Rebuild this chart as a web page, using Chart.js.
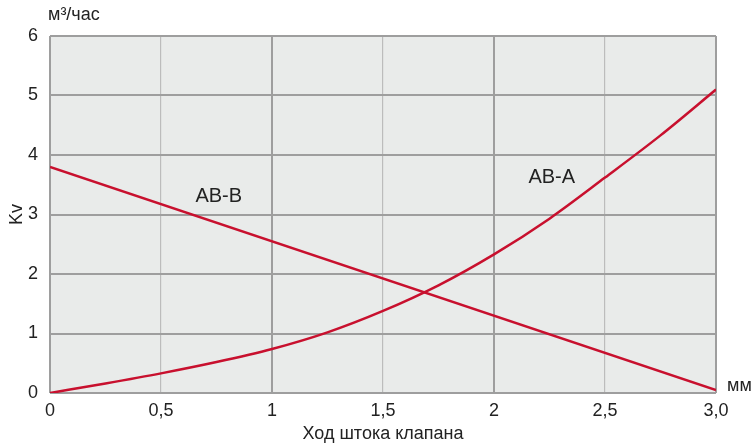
<!DOCTYPE html>
<html>
<head>
<meta charset="utf-8">
<script src="https://cdn.jsdelivr.net/npm/chart.js@4"></script>
<style>
  html, body { margin: 0; padding: 0; background: #fff; }
  #wrap { width: 751px; height: 445px; }
</style>
</head>
<body>
<div id="wrap"><canvas id="chart" width="751" height="445"></canvas></div>
<script>
// ход штока, мм
const strokeAB_A = [0, 0.25, 0.5, 0.75, 1, 1.25, 1.5, 1.75, 2, 2.25, 2.5, 2.75, 3];
const kvAB_A = [0, 0.16, 0.33, 0.52, 0.74, 1.02, 1.38, 1.81, 2.33, 2.93, 3.62, 4.33, 5.1];
const strokeAB_B = [0, 3];
const kvAB_B = [3.8, 0.05];
const xTicks = [0, 0.5, 1, 1.5, 2, 2.5, 3];
const yTicks = [0, 1, 2, 3, 4, 5, 6];
const seriesNames = ['AB-A', 'AB-B'];
const labelPos = [[2.26, 3.63], [0.76, 3.3]];

const FONT = '"Liberation Sans", Arial, sans-serif';
const RED = '#c8102e';

const bgPlugin = {
  id: 'bg',
  beforeDraw(chart) {
    const a = chart.chartArea, ctx = chart.ctx;
    ctx.save();
    ctx.fillStyle = '#e9ebea';
    ctx.fillRect(a.left, a.top, a.right - a.left, a.bottom - a.top);
    ctx.restore();
  }
};

const textPlugin = {
  id: 'texts',
  afterDatasetsDraw(chart) {
    const ctx = chart.ctx, xs = chart.scales.x, ys = chart.scales.y;
    ctx.save();
    ctx.fillStyle = '#222';
    ctx.font = '20px ' + FONT;
    ctx.textAlign = 'center';
    ctx.textBaseline = 'middle';
    seriesNames.forEach(function (name, i) {
      ctx.fillText(name, xs.getPixelForValue(labelPos[i][0]), ys.getPixelForValue(labelPos[i][1]));
    });
    ctx.font = '18px ' + FONT;
    ctx.textAlign = 'left';
    ctx.fillText('м³/час', xs.left - 2, 15);
    ctx.fillText('мм', xs.right + 11, ys.bottom - 7);
    ctx.restore();
  }
};

new Chart(document.getElementById('chart'), {
  type: 'line',
  data: {
    datasets: [
      { label: seriesNames[0], data: strokeAB_A.map(function (x, i) { return { x: x, y: kvAB_A[i] }; }),
        borderColor: RED, borderWidth: 2.5, pointRadius: 0, cubicInterpolationMode: 'monotone', fill: false },
      { label: seriesNames[1], data: strokeAB_B.map(function (x, i) { return { x: x, y: kvAB_B[i] }; }),
        borderColor: RED, borderWidth: 2.5, pointRadius: 0, fill: false }
    ]
  },
  options: {
    responsive: false,
    animation: false,
    layout: { padding: { top: 36, right: 35, left: 6, bottom: 0 } },
    plugins: { legend: { display: false }, tooltip: { enabled: false } },
    scales: {
      x: {
        type: 'linear', min: 0, max: 3,
        afterBuildTicks: function (s) { s.ticks = xTicks.map(function (v) { return { value: v }; }); },
        afterFit: function (s) { s.height = 52; },
        grid: {
          color: function (c) { return Number.isInteger(c.tick.value) ? '#9e9e9e' : '#bcbcbc'; },
          lineWidth: function (c) { return Number.isInteger(c.tick.value) ? 2 : 1.2; },
          drawTicks: false
        },
        border: { display: false },
        ticks: {
          color: '#222', font: { size: 18, family: FONT }, padding: 7, maxRotation: 0,
          callback: function (v) { return v === 3 ? '3,0' : String(v).replace('.', ','); }
        },
        title: { display: true, text: 'Ход штока клапана', color: '#222', font: { size: 18, family: FONT }, padding: { top: 3, bottom: 0 } }
      },
      y: {
        min: 0, max: 6,
        afterBuildTicks: function (s) { s.ticks = yTicks.map(function (v) { return { value: v }; }); },
        afterFit: function (s) { s.width = 44; },
        grid: { color: '#9e9e9e', lineWidth: 2, drawTicks: false },
        border: { display: false },
        ticks: { color: '#222', font: { size: 18, family: FONT }, padding: 12 },
        title: { display: true, text: 'Kv', color: '#222', font: { size: 18, family: FONT }, padding: { top: 0, bottom: 2 } }
      }
    }
  },
  plugins: [bgPlugin, textPlugin]
});
</script>
</body>
</html>
